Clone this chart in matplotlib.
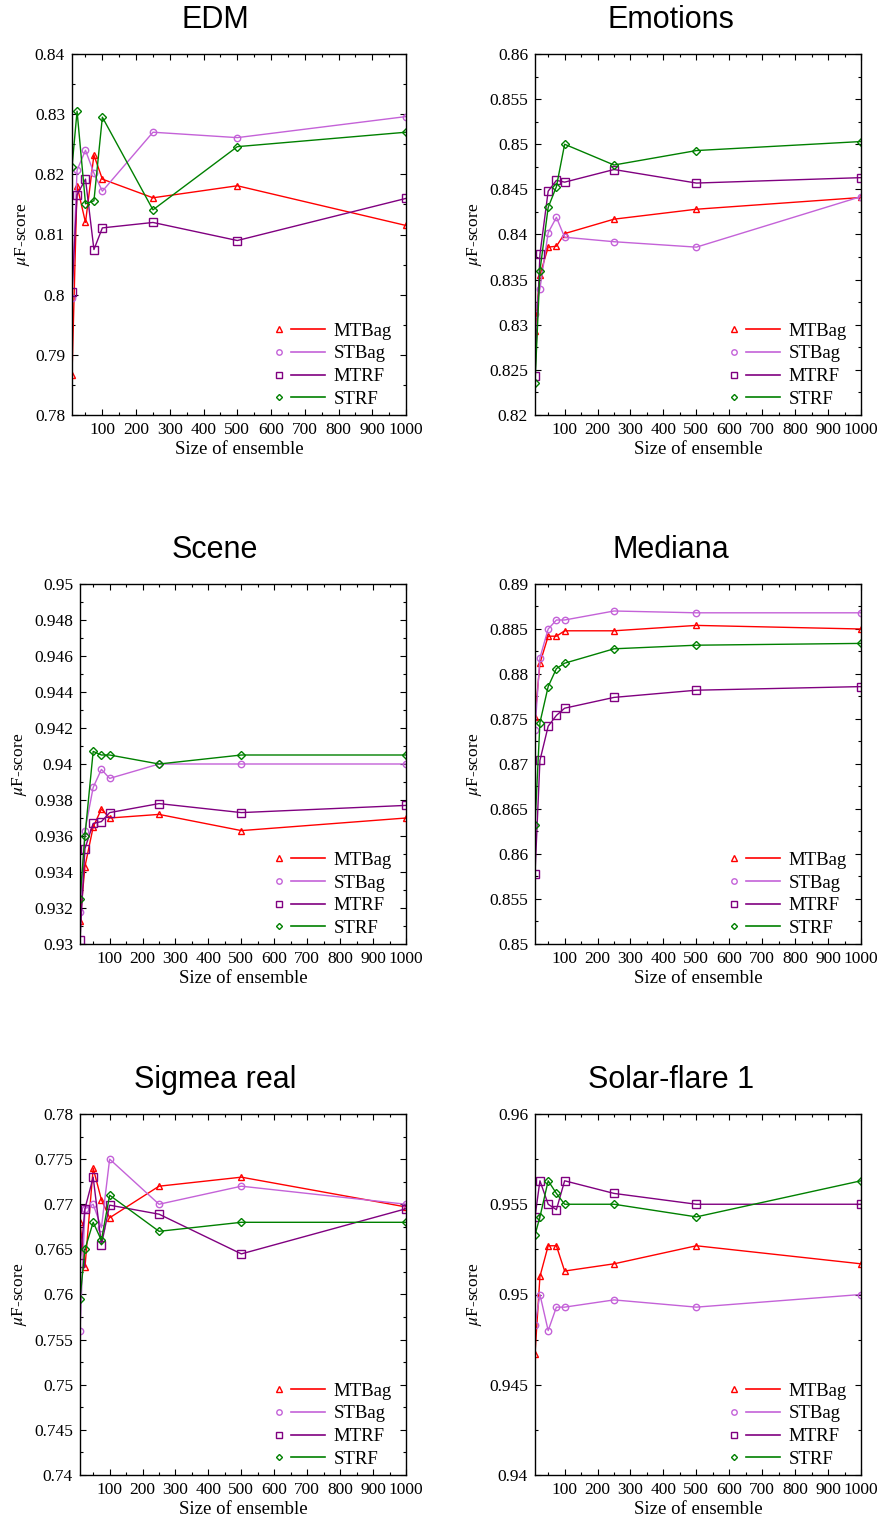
import matplotlib
matplotlib.use("Agg")
import matplotlib.pyplot as plt
from matplotlib.lines import Line2D
from matplotlib.legend_handler import HandlerBase
from matplotlib.ticker import MultipleLocator, FuncFormatter

plt.rcParams['font.family'] = ['Liberation Serif', 'DejaVu Serif']
plt.rcParams['mathtext.fontset'] = 'stix'

sizes = [10, 25, 50, 75, 100, 250, 500, 1000]
methods = ["MTBag", "STBag", "MTRF", "STRF"]

edm_mtbag = [0.7867, 0.8181, 0.8120, 0.8232, 0.8192, 0.8161, 0.8181, 0.8115]
edm_stbag = [0.7994, 0.8207, 0.8240, 0.8202, 0.8172, 0.8270, 0.8261, 0.8296]
edm_mtrf = [0.8004, 0.8166, 0.8192, 0.8075, 0.8111, 0.8120, 0.8090, 0.8160]
edm_strf = [0.8212, 0.8305, 0.8151, 0.8156, 0.8295, 0.8141, 0.8246, 0.8270]

emo_mtbag = [0.8293, 0.8355, 0.8386, 0.8387, 0.8401, 0.8417, 0.8428, 0.8441]
emo_stbag = [0.8312, 0.8340, 0.8402, 0.8419, 0.8397, 0.8392, 0.8386, 0.8442]
emo_mtrf = [0.8243, 0.8378, 0.8448, 0.8460, 0.8458, 0.8472, 0.8457, 0.8463]
emo_strf = [0.8235, 0.8360, 0.8430, 0.8453, 0.8500, 0.8477, 0.8493, 0.8503]

scene_mtbag = [0.9313, 0.9343, 0.9365, 0.9375, 0.9370, 0.9372, 0.9363, 0.9370]
scene_stbag = [0.9318, 0.9363, 0.9387, 0.9397, 0.9392, 0.9400, 0.9400, 0.9400]
scene_mtrf = [0.9302, 0.9353, 0.9367, 0.9368, 0.9373, 0.9378, 0.9373, 0.9377]
scene_strf = [0.9325, 0.9360, 0.9407, 0.9405, 0.9405, 0.9400, 0.9405, 0.9405]

med_mtbag = [0.8752, 0.8812, 0.8842, 0.8842, 0.8848, 0.8848, 0.8854, 0.8850]
med_stbag = [0.8738, 0.8818, 0.8850, 0.8860, 0.8860, 0.8870, 0.8868, 0.8868]
med_mtrf = [0.8578, 0.8704, 0.8742, 0.8754, 0.8762, 0.8774, 0.8782, 0.8786]
med_strf = [0.8632, 0.8746, 0.8786, 0.8806, 0.8812, 0.8828, 0.8832, 0.8834]

sig_mtbag = [0.7680, 0.7630, 0.7740, 0.7705, 0.7685, 0.7720, 0.7730, 0.7697]
sig_stbag = [0.7560, 0.7695, 0.7700, 0.7674, 0.7750, 0.7700, 0.7720, 0.7700]
sig_mtrf = [0.7635, 0.7695, 0.7730, 0.7655, 0.7699, 0.7689, 0.7645, 0.7695]
sig_strf = [0.7595, 0.7650, 0.7680, 0.7660, 0.7710, 0.7670, 0.7680, 0.7680]

sol_mtbag = [0.9467, 0.9510, 0.9527, 0.9527, 0.9513, 0.9517, 0.9527, 0.9517]
sol_stbag = [0.9483, 0.9500, 0.9480, 0.9493, 0.9493, 0.9497, 0.9493, 0.9500]
sol_mtrf = [0.9543, 0.9563, 0.9550, 0.9547, 0.9563, 0.9556, 0.9550, 0.9550]
sol_strf = [0.9533, 0.9543, 0.9563, 0.9556, 0.9550, 0.9550, 0.9543, 0.9563]

titles = ["EDM", "Emotions", "Scene", "Mediana", "Sigmea real", "Solar-flare 1"]
panel_series = [
    [edm_mtbag, edm_stbag, edm_mtrf, edm_strf],
    [emo_mtbag, emo_stbag, emo_mtrf, emo_strf],
    [scene_mtbag, scene_stbag, scene_mtrf, scene_strf],
    [med_mtbag, med_stbag, med_mtrf, med_strf],
    [sig_mtbag, sig_stbag, sig_mtrf, sig_strf],
    [sol_mtbag, sol_stbag, sol_mtrf, sol_strf],
]
ylims = [(0.78, 0.84), (0.82, 0.86), (0.93, 0.95), (0.85, 0.89), (0.74, 0.78), (0.94, 0.96)]
ysteps = [0.01, 0.005, 0.002, 0.005, 0.005, 0.005]

colors = ["#ff0000", "#c462d8", "#800080", "#008000"]
markers = ["^", "o", "s", "D"]
msizes = [4.5, 4.6, 5.2, 3.6]

W, H = 878, 1521
fig = plt.figure(figsize=(W / 100, H / 100), dpi=100)

# axes boxes in pixels: left, top, right, bottom
boxes = [
    (72, 54, 406, 415), (535, 54, 861, 415),
    (80, 584, 406, 944), (535, 584, 861, 944),
    (80, 1114, 406, 1475), (535, 1114, 861, 1475),
]
title_xy = [(215, 20), (671, 20), (215, 550), (671, 550), (215, 1080), (671, 1080)]
ylabel_x = [32, 484, 29, 484, 29, 484]


class MarkerThenLine(HandlerBase):
    def create_artists(self, legend, orig_handle, xdescent, ydescent,
                       width, height, fontsize, trans):
        y = height / 2.0 - ydescent
        m = Line2D([-xdescent + 0.07 * width], [y], linestyle='none',
                   marker=orig_handle.get_marker(),
                   markersize=orig_handle.get_markersize() * 0.85,
                   markeredgecolor=orig_handle.get_markeredgecolor(),
                   markerfacecolor='none', markeredgewidth=1.0)
        ln = Line2D([-xdescent + 0.31 * width, -xdescent + width], [y, y],
                    color=orig_handle.get_color(), lw=1.2)
        m.set_transform(trans)
        ln.set_transform(trans)
        return [m, ln]


fmt = FuncFormatter(lambda v, p: "%g" % round(v, 6))

for i, (title, series) in enumerate(zip(titles, panel_series)):
    l, t, r, b = boxes[i]
    wpx, hpx = r - l, b - t
    ax = fig.add_axes([l / W, 1 - b / H, wpx / W, hpx / H])
    handles = []
    for name, vals, c, mk, ms in zip(methods, series, colors, markers, msizes):
        h, = ax.plot(sizes, vals, color=c, lw=1.0, marker=mk, ms=ms,
                     mfc='none', mec=c, mew=1.0, label=name)
        handles.append(h)
    ax.set_xlim(10, 1000)
    ax.set_ylim(*ylims[i])
    ax.xaxis.set_minor_locator(MultipleLocator(50))
    ax.yaxis.set_major_locator(MultipleLocator(ysteps[i]))
    ax.yaxis.set_minor_locator(MultipleLocator(ysteps[i] / 2))
    ax.yaxis.set_major_formatter(fmt)
    ax.set_xticks([100, 200, 300, 400, 500, 600, 700, 800, 900, 1000])
    ax.tick_params(which='both', direction='in', top=True, right=True,
                   labelsize=12.5, width=0.8)
    ax.tick_params(which='major', length=4.5, pad=5)
    ax.tick_params(which='minor', length=2.5)
    for s in ax.spines.values():
        s.set_linewidth(1.0)
    tx, ty = title_xy[i]
    fig.text(tx / W, 1 - ty / H, title, fontsize=22, family='Liberation Sans',
             ha='center', va='center')
    ax.set_xlabel("Size of ensemble", fontsize=13.5, labelpad=2)
    ax.set_ylabel(r"$\mu$F-score", fontsize=12.5)
    ax.yaxis.set_label_coords((ylabel_x[i] - l) / wpx, 0.5)
    ax.legend(handles=handles, loc='lower right', frameon=False,
              fontsize=13.5, handlelength=2.6, handletextpad=0.48,
              labelspacing=0.3, borderpad=0, borderaxespad=0,
              bbox_to_anchor=(1 - 14 / wpx, 7 / hpx),
              handler_map={Line2D: MarkerThenLine()})

fig.savefig("out.png", dpi=100)
